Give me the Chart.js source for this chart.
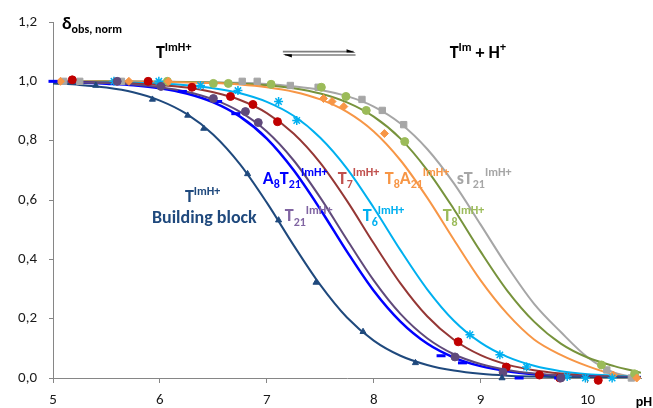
<!DOCTYPE html>
<html>
<head>
<meta charset="utf-8">
<script src="https://cdn.jsdelivr.net/npm/chart.js@4.4.1/dist/chart.umd.min.js"></script>
<style>
  body { margin: 0; background: #fff; }
  #wrap { width: 653px; height: 408px; }
</style>
</head>
<body>
<div id="wrap"><canvas id="c" width="653" height="408"></canvas></div>
<script>
// pH grid on which the fitted curves were read
const phGrid = [5.0, 5.25, 5.5, 5.75, 6.0, 6.25, 6.5, 6.75, 7.0, 7.25, 7.5, 7.75, 8.0, 8.25, 8.5, 8.75, 9.0, 9.25, 9.5, 9.75, 10.0, 10.25, 10.5];

// fitted curves
const bbFit    = [0.993, 0.988, 0.979, 0.963, 0.935, 0.890, 0.820, 0.720, 0.591, 0.448, 0.314, 0.204, 0.126, 0.075, 0.044, 0.025, 0.014, 0.008, 0.005, 0.003, 0.001, 0.001, 0.000];
const a8t21Fit = [0.998, 0.996, 0.992, 0.987, 0.977, 0.959, 0.929, 0.881, 0.807, 0.701, 0.569, 0.426, 0.294, 0.190, 0.116, 0.069, 0.040, 0.023, 0.013, 0.007, 0.004, 0.002, 0.001];
const t21Fit   = [0.998, 0.996, 0.994, 0.989, 0.980, 0.965, 0.939, 0.897, 0.831, 0.734, 0.608, 0.466, 0.329, 0.216, 0.134, 0.080, 0.047, 0.027, 0.015, 0.009, 0.005, 0.003, 0.002];
const t7Fit    = [0.999, 0.998, 0.996, 0.993, 0.988, 0.979, 0.963, 0.937, 0.893, 0.824, 0.725, 0.597, 0.454, 0.319, 0.208, 0.129, 0.077, 0.045, 0.026, 0.015, 0.008, 0.005, 0.003];
const t6Fit    = [0.999, 0.999, 0.998, 0.996, 0.993, 0.987, 0.977, 0.960, 0.931, 0.884, 0.810, 0.706, 0.574, 0.431, 0.299, 0.193, 0.119, 0.071, 0.041, 0.023, 0.013, 0.008, 0.004];
const t8a21Fit = [1.000, 1.000, 0.999, 0.999, 0.998, 0.996, 0.994, 0.989, 0.980, 0.965, 0.939, 0.897, 0.831, 0.734, 0.608, 0.466, 0.329, 0.216, 0.130, 0.078, 0.040, 0.012, 0.000];
const t8Fit    = [1.000, 1.000, 1.000, 0.999, 0.999, 0.998, 0.996, 0.992, 0.987, 0.977, 0.959, 0.929, 0.881, 0.807, 0.701, 0.569, 0.426, 0.294, 0.190, 0.116, 0.069, 0.040, 0.018];
const st21Fit  = [1.000, 1.000, 1.000, 1.000, 0.999, 0.998, 0.997, 0.995, 0.991, 0.983, 0.971, 0.950, 0.915, 0.858, 0.772, 0.656, 0.517, 0.376, 0.250, 0.155, 0.070, 0.018, 0.000];

// measured points
const bbPtsX    = [5.40, 5.93, 6.26, 6.41, 6.82, 7.11, 7.46, 7.90, 8.39, 9.20];
const bbPtsY    = [0.986, 0.939, 0.885, 0.841, 0.688, 0.532, 0.322, 0.156, 0.051, 0.000];
const a8t21PtsX = [5.00, 6.21, 6.54, 6.71, 8.63, 8.83, 9.36, 9.73];
const a8t21PtsY = [1.000, 0.966, 0.932, 0.891, 0.075, 0.051, 0.000, 0.000];
const t21PtsX   = [5.60, 6.01, 6.50, 6.80, 6.92, 8.76, 9.21, 9.75];
const t21PtsY   = [1.000, 0.983, 0.942, 0.898, 0.861, 0.071, 0.020, 0.000];
const t7PtsX    = [5.18, 5.89, 6.30, 6.66, 6.87, 7.10, 8.79, 9.24, 9.55, 9.74, 10.10];
const t7PtsY    = [1.005, 1.000, 0.980, 0.949, 0.922, 0.864, 0.122, 0.037, 0.010, 0.000, -0.008];
const t6PtsX    = [5.57, 5.99, 6.38, 6.73, 7.11, 7.28, 8.90, 9.18, 9.43, 9.81, 9.98, 10.23];
const t6PtsY    = [1.000, 1.000, 0.986, 0.969, 0.932, 0.868, 0.146, 0.078, 0.037, 0.005, 0.000, 0.000];
const t8a21PtsX = [5.07, 5.71, 6.08, 7.53, 7.61, 7.72, 8.10, 10.24, 10.46];
const t8a21PtsY = [1.000, 1.000, 1.000, 0.942, 0.932, 0.915, 0.824, 0.010, 0.000];
const t8PtsX    = [6.07, 6.50, 6.64, 7.04, 7.51, 7.74, 7.93, 8.29, 10.13, 10.44];
const t8PtsY    = [1.000, 0.993, 0.993, 0.990, 0.980, 0.949, 0.902, 0.797, 0.044, 0.014];
const st21PtsX  = [5.10, 5.25, 5.64, 6.77, 6.91, 7.22, 7.48, 7.89, 8.08, 8.28, 10.18, 10.41];
const st21PtsY  = [1.000, 1.000, 1.000, 1.000, 1.000, 0.986, 0.980, 0.939, 0.902, 0.854, 0.027, 0.000];

const yTicks = [0, 0.2, 0.4, 0.6, 0.8, 1.0, 1.2];
const xTicks = [5, 6, 7, 8, 9, 10];

const FONT = 'Carlito, Lato, "Liberation Sans", sans-serif';

const series = [
    {fit: bbFit,    px: bbPtsX,    py: bbPtsY,    line: '#1F497D', mark: '#1F497D', style: 'triangle', r: 3.5},
    {fit: t21Fit,   px: t21PtsX,   py: t21PtsY,   line: '#604A7B', mark: '#604A7B', style: 'circle',   r: 4},
    {fit: a8t21Fit, px: a8t21PtsX, py: a8t21PtsY, line: '#0000FF', mark: '#0000FF', style: 'line',     r: 4.5, bw: 3},
    {fit: t7Fit,    px: t7PtsX,    py: t7PtsY,    line: '#953735', mark: '#C00000', style: 'circle',   r: 4},
    {fit: t6Fit,    px: t6PtsX,    py: t6PtsY,    line: '#00B0F0', mark: '#00B0F0', style: 'star',     r: 4.5, bw: 1.5},
    {fit: t8a21Fit, px: t8a21PtsX, py: t8a21PtsY, line: '#F79646', mark: '#F79646', style: 'rectRot',  r: 4},
    {fit: t8Fit,    px: t8PtsX,    py: t8PtsY,    line: '#77933C', mark: '#9BBB59', style: 'circle',   r: 4},
    {fit: st21Fit,  px: st21PtsX,  py: st21PtsY,  line: '#A6A6A6', mark: '#A6A6A6', style: 'rect',     r: 4.5}
];

const datasets = [];
series.forEach(s => {
    datasets.push({
        data: phGrid.map((x, i) => ({x: x, y: s.fit[i]})),
        showLine: true,
        borderColor: s.line,
        borderWidth: s.line === '#0000FF' ? 2.5 : 2,
        pointRadius: 0,
        cubicInterpolationMode: 'monotone',
        order: 1
    });
    datasets.push({
        data: s.px.map((x, i) => ({x: x, y: s.py[i]})),
        showLine: false,
        pointStyle: s.style,
        pointRadius: s.r,
        backgroundColor: s.mark,
        borderColor: s.mark,
        borderWidth: s.bw || 1,
        clip: false,
        order: 0
    });
});

// annotation texts: [text, kind] parts; positions in data units (left, baseline)
const notes = [
    {x: 5.084, y: 1.178, color: '#000000', size: 18, parts: [['δ', 'n'], ['obs, norm', 'sub']]},
    {x: 5.963, y: 1.078, color: '#000000', size: 18, parts: [['T', 'n'], ['ImH+', 'sup']]},
    {x: 8.710, y: 1.078, color: '#000000', size: 18, parts: [['T', 'n'], ['Im', 'sup'], [' + H', 'n'], ['+', 'sup']]},
    {x: 6.234, y: 0.593, color: '#1F497D', size: 18, parts: [['T', 'n'], ['ImH+', 'sup']]},
    {x: 5.925, y: 0.522, color: '#1F497D', size: 18, parts: [['Building block', 'n']]},
    {x: 6.963, y: 0.654, color: '#0000FF', size: 18, parts: [['A', 'n'], ['8', 'sub'], ['T', 'n'], ['21', 'sub'], ['ImH+', 'sup']]},
    {x: 7.664, y: 0.654, color: '#C0504D', size: 18, parts: [['T', 'n'], ['7', 'sub'], ['ImH+', 'sup']]},
    {x: 8.103, y: 0.654, color: '#F79646', size: 18, parts: [['T', 'n'], ['8', 'sub'], ['A', 'n'], ['21', 'sub'], ['ImH+', 'sup']]},
    {x: 8.776, y: 0.654, color: '#A6A6A6', size: 18, parts: [['sT', 'n'], ['21', 'sub'], ['ImH+', 'sup']]},
    {x: 7.168, y: 0.529, color: '#8064A2', size: 18, parts: [['T', 'n'], ['21', 'sub'], ['ImH+', 'sup']]},
    {x: 7.897, y: 0.529, color: '#00B0F0', size: 18, parts: [['T', 'n'], ['6', 'sub'], ['ImH+', 'sup']]},
    {x: 8.645, y: 0.529, color: '#9BBB59', size: 18, parts: [['T', 'n'], ['8', 'sub'], ['ImH+', 'sup']]}
];

function drawRich(ctx, x, y, note) {
    let cx = x;
    note.parts.forEach(p => {
        const small = p[1] !== 'n';
        const size = small ? Math.round(note.size * 0.64) : note.size;
        let dy = 0;
        if (p[1] === 'sub') dy = note.size * 0.25;
        if (p[1] === 'sup') dy = -note.size * 0.42;
        ctx.font = 'bold ' + size + 'px ' + FONT;
        ctx.fillText(p[0], cx, y + dy);
        cx += ctx.measureText(p[0]).width;
    });
}

const notesPlugin = {
    id: 'notes',
    afterDatasetsDraw(chart) {
        const ctx = chart.ctx;
        const xs = chart.scales.x, ys = chart.scales.y;
        ctx.save();
        ctx.textAlign = 'left';
        ctx.textBaseline = 'alphabetic';
        notes.forEach(n => {
            ctx.fillStyle = n.color;
            drawRich(ctx, xs.getPixelForValue(n.x), ys.getPixelForValue(n.y), n);
        });
        // equilibrium arrows
        const x1 = xs.getPixelForValue(7.15), x2 = xs.getPixelForValue(7.83);
        const yt = ys.getPixelForValue(1.100), yb = ys.getPixelForValue(1.089);
        ctx.strokeStyle = '#7F7F7F';
        ctx.lineWidth = 1.6;
        ctx.beginPath();
        ctx.moveTo(x1, yt); ctx.lineTo(x2 - 2, yt);
        ctx.moveTo(x1 + 2, yb); ctx.lineTo(x2, yb);
        ctx.stroke();
        ctx.fillStyle = '#000000';
        ctx.beginPath();
        ctx.moveTo(x2, yt + 0.8); ctx.lineTo(x2 - 9, yt - 2.5); ctx.lineTo(x2 - 9, yt + 0.8); ctx.closePath();
        ctx.moveTo(x1, yb - 0.8); ctx.lineTo(x1 + 9, yb + 2.5); ctx.lineTo(x1 + 9, yb - 0.8); ctx.closePath();
        ctx.fill();
        // x-axis title at the end of the axis
        ctx.font = 'bold 14px ' + FONT;
        ctx.fillStyle = '#000000';
        ctx.fillText('pH', xs.getPixelForValue(10.45), ys.getPixelForValue(-0.095));
        ctx.restore();
    }
};

const axisGrid = {display: true, drawOnChartArea: false, drawTicks: true, tickLength: 5, color: '#868686'};

new Chart(document.getElementById('c'), {
    type: 'scatter',
    data: {datasets: datasets},
    options: {
        responsive: false,
        animation: false,
        layout: {padding: {top: 22, right: 12, left: 0, bottom: 0}},
        plugins: {legend: {display: false}, tooltip: {enabled: false}},
        scales: {
            x: {
                type: 'linear', min: 5, max: 10.5,
                afterBuildTicks: sc => { sc.ticks = xTicks.map(v => ({value: v})); },
                afterFit: sc => { sc.height = 30; },
                grid: axisGrid,
                border: {color: '#868686', width: 1},
                ticks: {color: '#1a1a1a', padding: 8, font: {size: 15, family: FONT}, callback: v => String(v)}
            },
            y: {
                type: 'linear', min: 0, max: 1.2,
                afterBuildTicks: sc => { sc.ticks = yTicks.map(v => ({value: v})); },
                afterFit: sc => { sc.width = 53; },
                grid: Object.assign({}, axisGrid, {tickLength: 4}),
                border: {color: '#868686', width: 1},
                ticks: {color: '#1a1a1a', padding: 12, font: {size: 15, family: FONT},
                        callback: v => v.toFixed(1).replace('.', ',')}
            }
        }
    },
    plugins: [notesPlugin]
});
</script>
</body>
</html>
